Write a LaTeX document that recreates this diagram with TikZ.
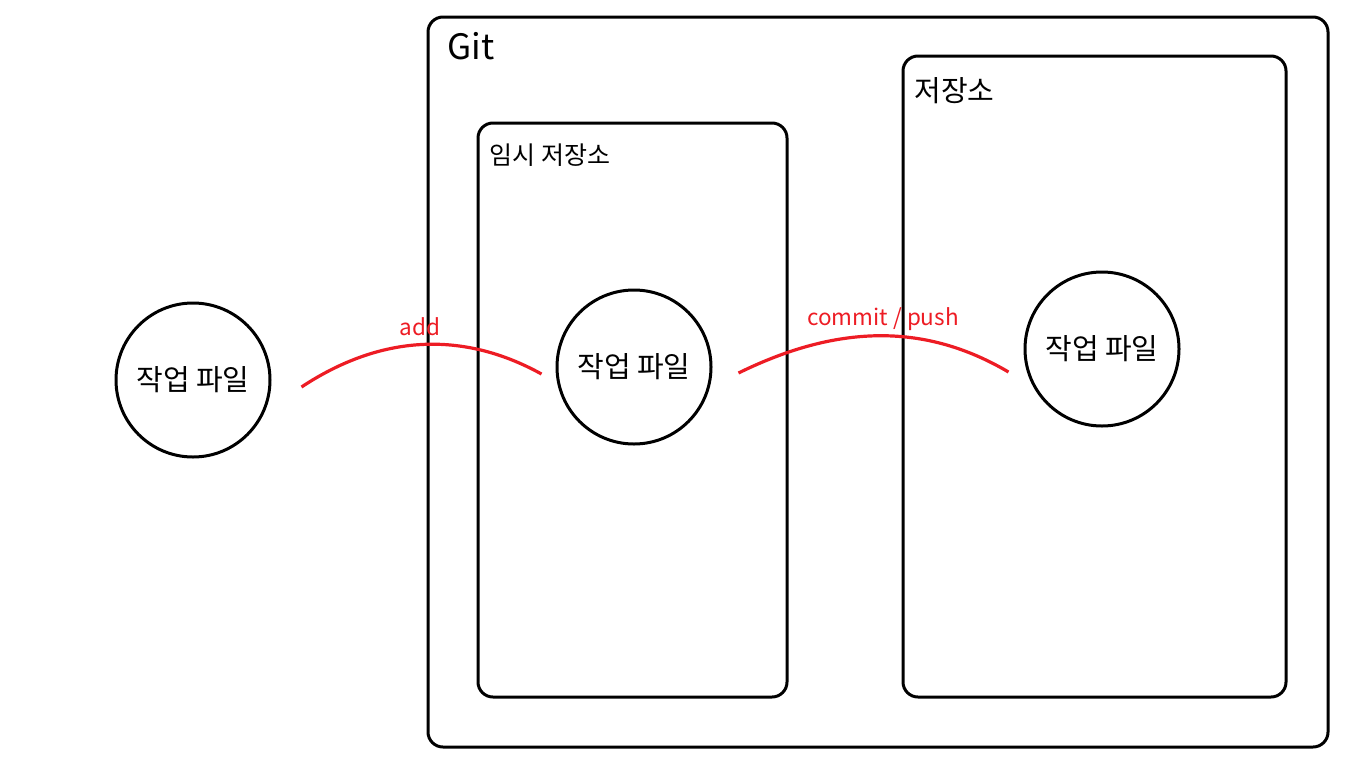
\documentclass[tikz,border=0pt]{standalone}
\usepackage{fontspec}
\setmainfont{Noto Sans CJK KR}
\usetikzlibrary{calc,positioning}
\definecolor{paintred}{HTML}{ED1C24}
\begin{document}
\begin{tikzpicture}[x=1pt,y=-1pt,
	box/.style={line width=3pt,rounded corners=15pt},
	file/.style={draw,circle,line width=3pt,minimum size=154pt,inner sep=0pt,font=\fontsize{29}{34}\selectfont},
	flow/.style={draw=paintred,line width=3.2pt},
	flowlabel/.style={text=paintred,inner sep=1pt,font=\fontsize{22.5}{27}\selectfont}]
	\useasboundingbox (0,0) rectangle (1346,766);
	\draw[box] (428,17) rectangle (1328,747);
	\draw[box] (478,123) rectangle (787,697);
	\draw[box] (903,56) rectangle (1286,697);
	\node[anchor=west,font=\fontsize{35}{40}\selectfont] (git) at (444,46) {Git};
	\node[anchor=west,font=\fontsize{25}{30}\selectfont] (stage) at (486,155) {임시 저장소};
	\node[anchor=west,font=\fontsize{29}{34}\selectfont] (repo) at (911,91) {저장소};
	\node[file] (work) at (193,380) {작업 파일};
	\node[file] (staged) at (634,367) {작업 파일};
	\node[file] (commited) at (1102,349) {작업 파일};
	\path
	([xshift=30pt,yshift=-7pt]work.east) coordinate (A)
	([xshift=-14pt,yshift=-7pt]staged.west) coordinate (B)
	([xshift=26pt,yshift=-6pt]staged.east) coordinate (C)
	([xshift=-15pt,yshift=-23pt]commited.west) coordinate (D)
	;
	\draw[flow] (A) .. controls ($(A)!.33!(B)+(0,-48)$) and ($(A)!.67!(B)+(0,-48)$) .. (B);
	\draw[flow] (C) .. controls ($(C)!.38!(D)+(0,-50)$) and ($(C)!.7!(D)+(0,-48)$) .. (D);
	\node[flowlabel] (add) at (420,327) {add};
	\node[flowlabel] (commit) at (883,319) {commit / push};
\end{tikzpicture}
\end{document}
